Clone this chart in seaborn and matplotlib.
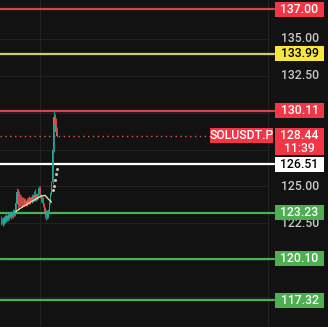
import matplotlib
matplotlib.use("Agg")
import matplotlib.pyplot as plt
import matplotlib.transforms as mtransforms
from matplotlib.patches import Rectangle
import seaborn as sns
import pandas as pd

# ---------------- data ----------------
opens = [122.9, 122.6, 122.8, 122.5, 122.9, 122.7, 123.0, 122.8, 123.1, 122.9,
         123.2, 123.0, 123.3, 123.1, 123.4, 123.9, 124.6, 123.8, 124.3, 123.9,
         124.2, 123.8, 124.1, 123.9, 124.0, 123.8, 124.1, 123.95, 124.2, 124.0,
         124.3, 124.1, 124.4, 124.2, 124.4, 124.25, 124.5, 124.9, 124.3, 124.1,
         124.2, 123.8, 123.5, 123.1, 123.3, 122.95, 123.4, 123.9, 124.5, 125.3,
         127.5, 129.7, 129.2, 128.7]
closes = [122.6, 122.8, 122.5, 122.9, 122.7, 123.0, 122.8, 123.1, 122.9, 123.2,
          123.0, 123.3, 123.1, 123.4, 123.9, 124.6, 123.8, 124.3, 123.9, 124.2,
          123.8, 124.1, 123.9, 124.0, 123.8, 124.1, 123.95, 124.2, 124.0, 124.3,
          124.1, 124.4, 124.2, 124.4, 124.25, 124.5, 124.9, 124.3, 124.1, 124.2,
          123.8, 123.5, 123.1, 123.3, 122.95, 123.4, 123.9, 124.5, 125.3, 127.5,
          129.7, 129.2, 128.7, 128.44]
highs = [123.0, 122.9, 122.95, 123.0, 123.1, 123.15, 123.1, 123.25, 123.2, 123.35,
         123.3, 123.45, 123.4, 123.6, 124.1, 124.9, 124.8, 124.7, 124.5, 124.4,
         124.3, 124.3, 124.2, 124.2, 124.1, 124.25, 124.3, 124.35, 124.3, 124.5,
         124.4, 124.7, 124.8, 124.55, 124.5, 124.7, 125.0, 125.05, 124.5, 124.35,
         124.3, 123.9, 123.6, 123.4, 123.4, 123.5, 124.0, 124.6, 125.4, 127.8,
         130.11, 129.9, 129.6, 129.0]
lows = [122.4, 122.45, 122.35, 122.4, 122.55, 122.6, 122.65, 122.7, 122.75, 122.8,
        122.85, 122.9, 123.0, 123.0, 123.3, 123.8, 123.5, 123.6, 123.7, 123.7,
        123.6, 123.7, 123.7, 123.75, 123.65, 123.7, 123.8, 123.85, 123.85, 123.9,
        123.95, 124.0, 124.0, 124.05, 124.1, 124.15, 124.4, 124.2, 123.95, 123.9,
        123.6, 123.3, 122.9, 122.75, 122.8, 122.85, 123.3, 123.8, 124.4, 125.2,
        127.3, 128.9, 128.5, 128.35]

ma_idx = [14, 20, 26, 32, 38, 42, 45, 48]
ma_val = [123.3, 123.6, 123.85, 124.1, 124.35, 124.4, 124.15, 123.95]

sar_idx = [49, 50, 51, 52, 53]
sar_val = [124.75, 125.05, 125.45, 125.85, 126.15]

level_values = [137.00, 133.99, 130.11, 126.51, 123.23, 120.10, 117.32]
level_labels = ["137.00", "133.99", "130.11", "126.51", "123.23", "120.10", "117.32"]
level_kinds = ["red", "yellow", "red", "white", "green", "green", "green"]

grid_values = [135.0, 132.5, 130.0, 127.5, 125.0, 122.5, 120.0, 117.5]
tick_values = [135.0, 132.5, 125.0, 122.5]
tick_labels = ["135.00", "132.50", "125.00", "122.50"]

last_price = 128.44
last_label = "128.44"
countdown = "11:39"
symbol = "SOLUSDT.P"

# ---------------- style ----------------
BG = "#121212"
GRID = "#222222"
UP = "#26a69a"
DOWN = "#ef5350"
line_col = {"red": "#d8434d", "yellow": "#d9cc5c", "white": "#ffffff", "green": "#4caf50"}
box_col = {"red": "#f23645", "yellow": "#f7e541", "white": "#ffffff", "green": "#4caf50"}
txt_col = {"red": "white", "yellow": "black", "white": "black", "green": "white"}

sns.set_theme(style="dark", rc={"axes.facecolor": BG, "figure.facecolor": BG})
plt.rcParams["font.family"] = ["Roboto", "DejaVu Sans"]

W, H = 328, 327
fig = plt.figure(figsize=(W / 100, H / 100), dpi=100)
ax = fig.add_axes([0, 0, 1, 1])
ax.set_facecolor(BG)

pxu = 1.05
x0 = -1
ax.set_xlim(x0, x0 + W / pxu)
ax.set_ylim(115.50, 137.61)
ax.axis("off")

blend = mtransforms.blended_transform_factory(ax.transAxes, ax.transData)

def fx(px):
    return px / W

FS = 8.8
FW = "medium"

# grid
for t in grid_values:
    ax.axhline(t, xmin=0, xmax=fx(268), color=GRID, lw=0.8, zorder=0)
for px in (40, 268):
    ax.axvline(x0 + px / pxu, color=GRID, lw=0.8, zorder=0)

# candles
df = pd.DataFrame({"i": range(len(opens)), "o": opens, "h": highs, "l": lows, "c": closes})
colors = [UP if c >= o else DOWN for o, c in zip(df.o, df.c)]
ax.vlines(df.i, df.l, df.h, colors=colors, lw=0.6, zorder=3)
bottoms = [min(o, c) for o, c in zip(df.o, df.c)]
heights = [max(abs(c - o), 0.04) for o, c in zip(df.o, df.c)]
ax.bar(df.i, heights, bottom=bottoms, width=0.7, color=colors, lw=0, zorder=3)

# moving average & SAR dots via seaborn
sns.lineplot(x=ma_idx, y=ma_val, ax=ax, color="#e8e0a0", lw=1.0, zorder=4)
sns.scatterplot(x=sar_idx, y=sar_val, ax=ax, color="#c0c0c0", s=5, linewidth=0, zorder=4)

# horizontal levels
for v, k in zip(level_values, level_kinds):
    ax.axhline(v, xmin=0, xmax=fx(274), color=line_col[k], lw=1.6, zorder=2)

# last price dotted line
ax.axhline(last_price, xmin=0, xmax=fx(210), color=DOWN, lw=1.0,
           linestyle=(0, (1, 2.5)), zorder=2)

# price axis tick labels
for t, lab in zip(tick_values, tick_labels):
    ax.text(fx(300), t, lab, transform=blend, ha="center", va="center",
            color="#c8c8c8", fontsize=FS, fontweight=FW, zorder=5)

# level boxes
u = 14.79  # px per price unit
for v, lab, k in zip(level_values, level_labels, level_kinds):
    ax.add_patch(Rectangle((fx(275), v - 7.5 / u), fx(49), 15 / u, transform=blend,
                           facecolor=box_col[k], edgecolor="none", zorder=6, clip_on=False))
    ax.text(fx(299.5), v, lab, transform=blend, ha="center", va="center",
            color=txt_col[k], fontsize=FS, fontweight=FW, zorder=7)

# last price box (two lines)
ax.add_patch(Rectangle((fx(275), last_price - 19.5 / u), fx(49), 27 / u, transform=blend,
                       facecolor=box_col["red"], edgecolor="none", zorder=6))
ax.text(fx(299.5), last_price, last_label, transform=blend, ha="center", va="center",
        color="white", fontsize=FS, fontweight=FW, zorder=7)
ax.text(fx(299.5), last_price - 13 / u, countdown, transform=blend, ha="center", va="center",
        color="white", fontsize=FS, fontweight=FW, zorder=7)

# symbol label
ax.add_patch(Rectangle((fx(210), last_price - 7.5 / u), fx(63), 15 / u, transform=blend,
                       facecolor=box_col["red"], edgecolor="none", zorder=6))
ax.text(fx(241.5), last_price, symbol, transform=blend, ha="center", va="center",
        color="white", fontsize=FS, fontweight=FW, zorder=7)

fig.savefig("out.png", dpi=100, facecolor=BG)
